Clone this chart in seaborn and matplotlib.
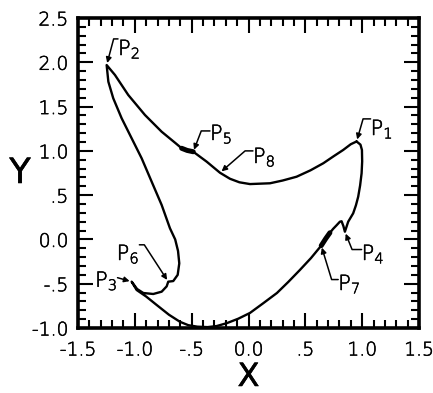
import matplotlib
matplotlib.use("Agg")
import matplotlib.pyplot as plt
import matplotlib.patheffects as pe
import pandas as pd
import seaborn as sns
from matplotlib.ticker import MultipleLocator, FixedLocator, FixedFormatter

# Closed trajectory, traced P1 -> P4 -> P7 -> P3 -> P6 -> P2 -> P5 -> P8 -> P1
x = [0.951, 0.985, 0.998, 1.000, 0.995, 0.982, 0.965, 0.945, 0.921, 0.877,
     0.848, 0.835, 0.819, 0.804, 0.775, 0.745, 0.716, 0.680, 0.640, 0.550,
     0.452, 0.350, 0.250, 0.130, 0.013, -0.090, -0.190, -0.280, -0.360, -0.450,
     -0.530, -0.603, -0.700, -0.808, -0.900, -0.984, -1.028, -0.980, -0.925, -0.838,
     -0.764, -0.720, -0.706, -0.662, -0.623, -0.609, -0.620, -0.645, -0.691, -0.764,
     -0.852, -0.940, -1.028, -1.116, -1.190, -1.233, -1.248, -1.175, -1.058, -0.911,
     -0.764, -0.640, -0.588, -0.540, -0.486, -0.368, -0.251, -0.163, -0.080, 0.013,
     0.189, 0.300, 0.423, 0.545, 0.658, 0.750, 0.833, 0.900, 0.951]
y = [1.106, 1.070, 1.010, 0.880, 0.747, 0.610, 0.482, 0.385, 0.295, 0.200,
     0.087, 0.150, 0.205, 0.200, 0.160, 0.120, 0.075, 0.010, -0.070, -0.210,
     -0.345, -0.480, -0.605, -0.720, -0.830, -0.895, -0.945, -0.978, -0.990, -0.985,
     -0.968, -0.930, -0.850, -0.740, -0.645, -0.571, -0.477, -0.560, -0.605, -0.616,
     -0.590, -0.530, -0.477, -0.470, -0.400, -0.270, -0.130, 0.000, 0.126, 0.389,
     0.652, 0.916, 1.142, 1.368, 1.594, 1.781, 1.969, 1.857, 1.631, 1.405,
     1.216, 1.085, 1.029, 1.005, 0.990, 0.878, 0.753, 0.685, 0.645, 0.625,
     0.634, 0.665, 0.708, 0.780, 0.860, 0.940, 1.010, 1.075, 1.106]

# Heavier stretches of the trajectory (start, end index)
thick_segments = [(16, 18), (62, 64)]

# Point labels: text, trajectory index pointed at, text anchor (left, baseline)
label_text = ["P$_1$", "P$_2$", "P$_3$", "P$_4$", "P$_5$", "P$_6$", "P$_7$", "P$_8$"]
label_idx = [0, 56, 36, 10, 64, 42, 18, 66]
label_x = [1.074, -1.148, -1.350, 0.995, -0.339, -1.160, 0.789, 0.039]
label_y = [1.179, 2.082, -0.534, -0.232, 1.123, -0.232, -0.571, 0.863]
leader_angle = [74, 75, None, -68, 69, 123, -73, 41]
leader_side = [0, 0, 1, 0, 0, 1, 0, 0]
leader_rel = [0.92, 0.92, 0.62, 0.68, 0.62, 0.88, 0.68, 0.75]

x_ticks = [-1.5, -1.0, -0.5, 0.0, 0.5, 1.0, 1.5]
x_ticklabels = ["-1.5", "-1.0", "-.5", "0.0", ".5", "1.0", "1.5"]
y_ticks = [-1.0, -0.5, 0.0, 0.5, 1.0, 1.5, 2.0, 2.5]
y_ticklabels = ["-1.0", "-.5", "0.0", ".5", "1.0", "1.5", "2.0", "2.5"]

sns.set_style("ticks")
plt.rcParams["font.family"] = ["DejaVu Sans"]
plt.rcParams["font.weight"] = "light"
plt.rcParams["mathtext.fontset"] = "custom"
plt.rcParams["mathtext.rm"] = "DejaVu Sans:light"
plt.rcParams["mathtext.it"] = "DejaVu Sans:light"
plt.rcParams["mathtext.default"] = "rm"

# thin pen-like lettering: light face traced with a fine black outline
ink = [pe.withStroke(linewidth=0.4, foreground="black")]

fig = plt.figure(figsize=(4.33, 3.93), dpi=100)
ax = fig.add_axes([78 / 433, 65 / 393, 341 / 433, 310 / 393])

df = pd.DataFrame({"x": x, "y": y})
sns.lineplot(data=df, x="x", y="y", sort=False, estimator=None,
             color="black", lw=1.7, ax=ax)
for a, b in thick_segments:
    seg = df.iloc[a:b + 1]
    sns.lineplot(data=seg, x="x", y="y", sort=False, estimator=None,
                 color="black", lw=3.6, ax=ax)

for txt, i, tx, ty, ang, side, rel in zip(label_text, label_idx, label_x, label_y,
                                          leader_angle, leader_side, leader_rel):
    if ang is None:
        conn = "arc3,rad=0"
    else:
        conn = f"angle,angleA=0,angleB={ang},rad=0"
    ax.annotate(txt, xy=(x[i], y[i]), xytext=(tx, ty), textcoords="data",
                ha="left", va="baseline", fontsize=15, color="black",
                path_effects=ink,
                arrowprops=dict(arrowstyle="-|>", connectionstyle=conn,
                                relpos=(side, rel), patchA=None,
                                shrinkA=0, shrinkB=1.5, lw=1.1,
                                color="black", mutation_scale=8))

ax.set_xlim(-1.5, 1.5)
ax.set_ylim(-1.0, 2.5)
ax.xaxis.set_major_locator(FixedLocator(x_ticks))
ax.xaxis.set_major_formatter(FixedFormatter(x_ticklabels))
ax.yaxis.set_major_locator(FixedLocator(y_ticks))
ax.yaxis.set_major_formatter(FixedFormatter(y_ticklabels))
ax.xaxis.set_minor_locator(MultipleLocator(0.1))
ax.yaxis.set_minor_locator(MultipleLocator(0.1))
ax.tick_params(which="both", direction="in", top=True, right=True,
               color="black", width=1.5, labelcolor="black")
ax.tick_params(which="major", length=10.5, labelsize=13.5)
ax.tick_params(which="minor", length=5.5)
ax.tick_params(axis="x", which="major", pad=9)
ax.tick_params(axis="y", which="major", pad=7)
for s in ax.spines.values():
    s.set_linewidth(2.6)
    s.set_color("black")
for lab in ax.get_xticklabels() + ax.get_yticklabels():
    lab.set_path_effects(ink)

ax.set_xlabel("X", fontsize=23, va="baseline", color="black", path_effects=ink)
ax.set_ylabel("Y", fontsize=25, rotation=0, ha="center", va="center",
              color="black", path_effects=ink)
ax.xaxis.set_label_coords(0.5, (328 - 386) / 310)
ax.yaxis.set_label_coords(-0.17, 0.5)

fig.savefig("out.png", dpi=100)
